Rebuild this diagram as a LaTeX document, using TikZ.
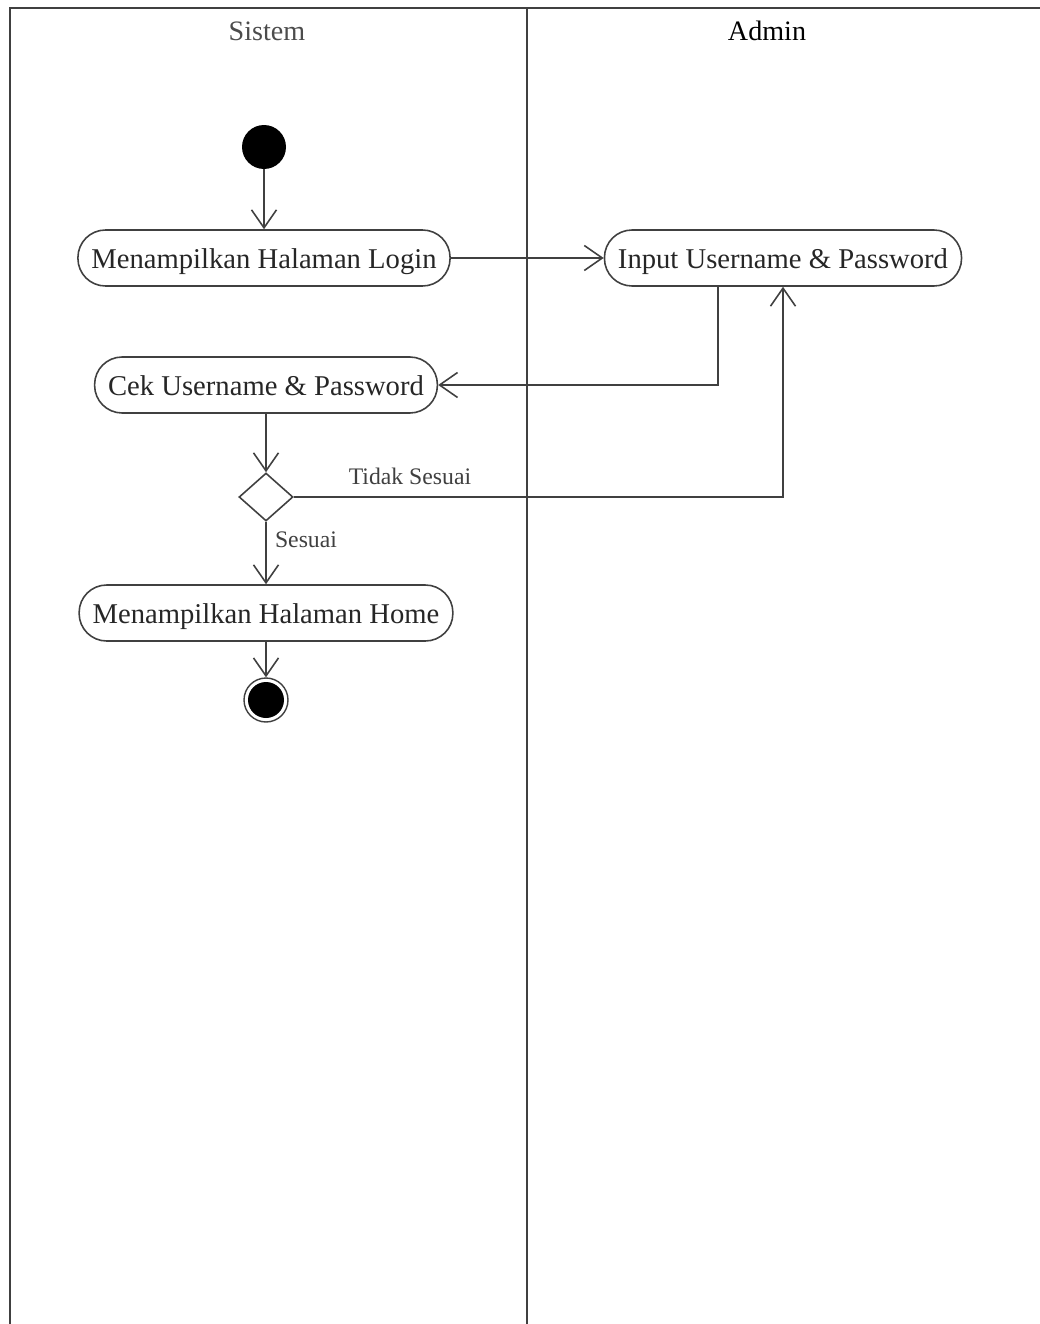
\documentclass[tikz,border=0pt]{standalone}
\usepackage{fontspec}
\setmainfont{Liberation Serif}
\usepackage{tikz}
\usetikzlibrary{arrows.meta,shapes.geometric}
\definecolor{garis}{HTML}{404040}

\tikzset{
  aksi/.style={draw=garis,line width=0.9pt,rounded corners=0.55cm,minimum height=1.12cm,
    inner xsep=0.27cm,text height=1.2em,text depth=0em,
    font=\fontsize{16.3}{18}\selectfont,text=black!85},
  awal/.style={circle,fill=black,minimum size=0.88cm,inner sep=0pt},
  akhir/.style={circle,draw=garis,line width=0.8pt,minimum size=0.88cm,inner sep=0pt,
    path picture={\fill (path picture bounding box.center) circle (0.36cm);}},
  keputusan/.style={diamond,draw=garis,line width=0.9pt,minimum width=1.08cm,minimum height=0.96cm,inner sep=0pt},
  alur/.style={draw=garis,line width=0.9pt,-{Straight Barb[length=0.36cm,width=0.5cm,line width=0.9pt]}},
  ket/.style={font=\fontsize{13.5}{15}\selectfont,text=black!75},
  lajur/.style={font=\fontsize{16}{18}\selectfont}
}

\begin{document}
\begin{tikzpicture}[x=0.02cm,y=-0.02cm]
      \useasboundingbox (0,0) rectangle (1040,1324);
      % swimlane
        \draw[garis,line width=1.2pt] (10,1324) -- (10,8) -- (1040,8);
        \draw[garis,line width=1.4pt] (527,8) -- (527,1324);
        \node[lajur,text=black!70] (sistem) at (267,31) {Sistem};
        \node[lajur] (admin) at (767,31) {Admin};
      % aktivitas
        \node[awal] (start) at (264,147) {};
        \node[aksi] (login) at (264,258) {Menampilkan Halaman Login};
        \node[aksi] (input) at (783,258) {Input Username \& Password};
        \node[aksi] (cek) at (266,385) {Cek Username \& Password};
        \node[keputusan] (dec) at (266,497) {};
        \node[aksi] (home) at (266,613) {Menampilkan Halaman Home};
        \node[akhir] (end) at (266,700) {};
      % alur
        \draw[alur] (start) -- (login);
        \draw[alur] (login) -- (input);
        \draw[alur] ([xshift=-1.3cm]input.south) |- (cek.east);
        \draw[alur] (cek) -- (dec);
        \draw[alur] (dec.east) -| (input.south);
        \node[ket] (tidak) at (410,476) {Tidak Sesuai};
        \draw[alur] (dec) -- (home);
        \node[ket] (sesuai) at (306,540) {Sesuai};
        \draw[alur] (home) -- (end);
\end{tikzpicture}
\end{document}
